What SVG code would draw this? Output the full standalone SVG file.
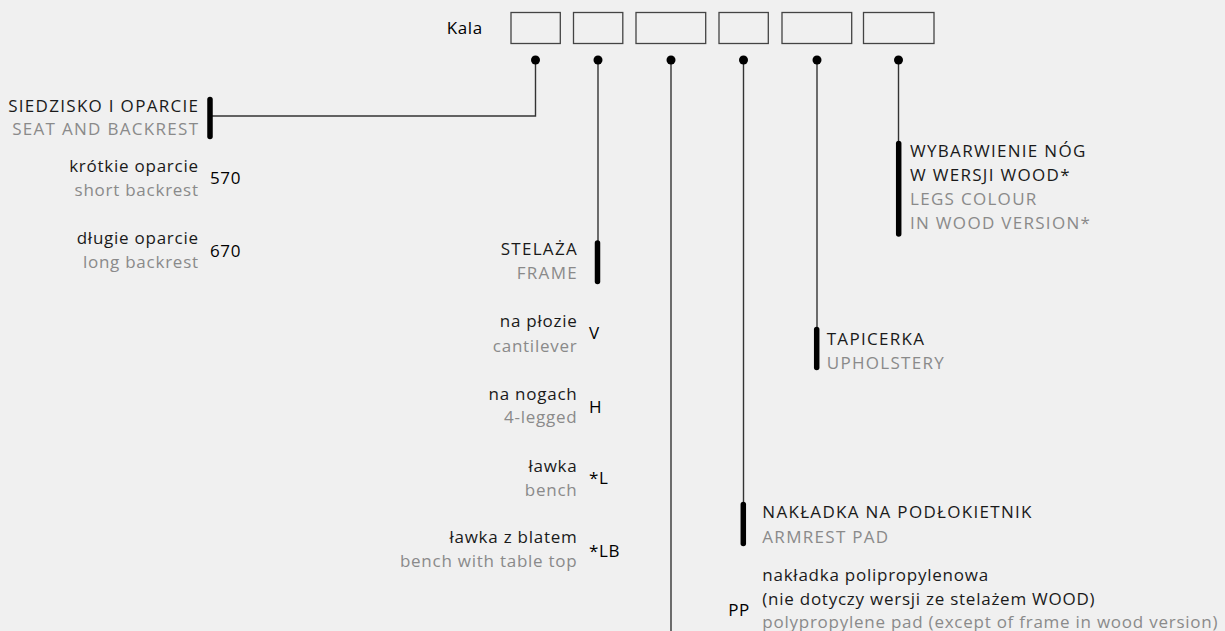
<svg xmlns="http://www.w3.org/2000/svg" width="1225" height="631" viewBox="0 0 1225 631">
<style>
text{font-family:"Open Sans","Noto Sans","Liberation Sans",sans-serif;font-size:17px;fill:#1a1a1a;letter-spacing:0.75px}
.u{letter-spacing:1.3px}
.g{fill:#8a8a8a}
.c{font-weight:500;letter-spacing:0.6px;fill:#000}
.e{text-anchor:end}
.box{fill:#f0f0f0;stroke:#444;stroke-width:1.3}
.ln{fill:none;stroke:#333;stroke-width:1.4}
.bar{stroke:#000;stroke-width:5.5;stroke-linecap:round}
.dot{fill:#000}
</style>
<rect width="1225" height="631" fill="#f0f0f0"/>
<g id="header">
<text x="446.7" y="34.3" class="c">Kala</text>
<rect class="box" x="511" y="12.5" width="49.3" height="31"/>
<rect class="box" x="573.5" y="12.5" width="49.3" height="31"/>
<rect class="box" x="636" y="12.5" width="69.7" height="31"/>
<rect class="box" x="719" y="12.5" width="49.3" height="31"/>
<rect class="box" x="782" y="12.5" width="69.7" height="31"/>
<rect class="box" x="863.5" y="12.5" width="70.5" height="31"/>
</g>
<g id="connectors">
<polyline class="ln" points="535.5,60 535.5,116 212,116"/>
<line class="ln" x1="598" y1="60" x2="598" y2="242"/>
<line class="ln" x1="671" y1="60" x2="671" y2="631"/>
<line class="ln" x1="743.5" y1="60" x2="743.5" y2="504"/>
<line class="ln" x1="817" y1="60" x2="817" y2="329"/>
<line class="ln" x1="898.5" y1="60" x2="898.5" y2="143"/>
<circle class="dot" cx="535.5" cy="60" r="4.5"/>
<circle class="dot" cx="598" cy="60" r="4.5"/>
<circle class="dot" cx="671" cy="60" r="4.5"/>
<circle class="dot" cx="743.5" cy="60" r="4.5"/>
<circle class="dot" cx="817" cy="60" r="4.5"/>
<circle class="dot" cx="898.5" cy="60" r="4.5"/>
</g>
<g id="seat">
<line class="bar" x1="210" y1="99.5" x2="210" y2="136.5"/>
<text x="199.3" y="111.7" class="e u">SIEDZISKO I OPARCIE</text>
<text x="199.3" y="135" class="e u g">SEAT AND BACKREST</text>
<text x="198.8" y="172.3" class="e">krótkie oparcie</text>
<text x="198.8" y="196" class="e g">short backrest</text>
<text x="210" y="184" class="c">570</text>
<text x="198.8" y="244.3" class="e">długie oparcie</text>
<text x="198.8" y="268.3" class="e g">long backrest</text>
<text x="210" y="256.7" class="c">670</text>
</g>
<g id="frame">
<line class="bar" x1="597.5" y1="243" x2="597.5" y2="281.5"/>
<text x="578" y="255" class="e u">STELAŻA</text>
<text x="578" y="279.3" class="e u g">FRAME</text>
<text x="577.5" y="327.3" class="e">na płozie</text>
<text x="577.5" y="351.5" class="e g">cantilever</text>
<text x="589" y="339.3" class="c">V</text>
<text x="577.5" y="399.5" class="e">na nogach</text>
<text x="577.5" y="423.3" class="e g">4-legged</text>
<text x="589" y="412.5" class="c">H</text>
<text x="577.5" y="471.7" class="e">ławka</text>
<text x="577.5" y="495.7" class="e g">bench</text>
<text x="589" y="484.3" class="c">*L</text>
<text x="577.5" y="543.3" class="e">ławka z blatem</text>
<text x="577.5" y="567.3" class="e g">bench with table top</text>
<text x="589" y="557.3" class="c">*LB</text>
</g>
<g id="armrest">
<line class="bar" x1="743.3" y1="504.5" x2="743.3" y2="543.5"/>
<text x="762.3" y="518.3" class="u">NAKŁADKA NA PODŁOKIETNIK</text>
<text x="762.3" y="542.7" class="u g">ARMREST PAD</text>
<text x="762.3" y="580.7">nakładka polipropylenowa</text>
<text x="762.3" y="605">(nie dotyczy wersji ze stelażem WOOD)</text>
<text x="762.3" y="628.3" class="g">polypropylene pad (except of frame in wood version)</text>
<text x="728.3" y="616" class="c">PP</text>
</g>
<g id="upholstery">
<line class="bar" x1="816.7" y1="329.5" x2="816.7" y2="367.5"/>
<text x="826.7" y="345" class="u">TAPICERKA</text>
<text x="826.7" y="369" class="u g">UPHOLSTERY</text>
</g>
<g id="legs">
<line class="bar" x1="898.7" y1="143.5" x2="898.7" y2="234"/>
<text x="910" y="156.7" class="u">WYBARWIENIE NÓG</text>
<text x="910" y="181" class="u">W WERSJI WOOD*</text>
<text x="910" y="205" class="u g">LEGS COLOUR</text>
<text x="910" y="229" class="u g">IN WOOD VERSION*</text>
</g>
</svg>
